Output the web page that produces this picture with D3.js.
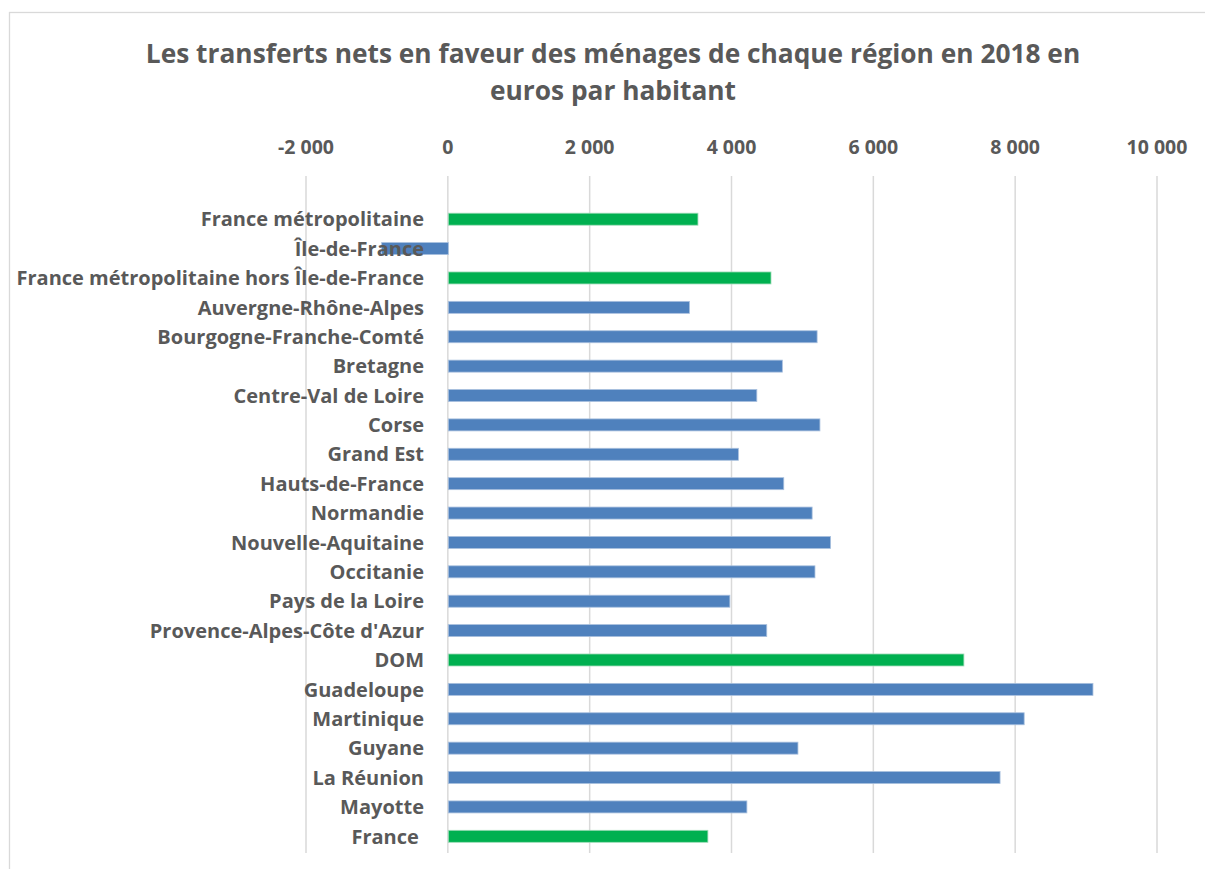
<!DOCTYPE html>
<html>
<head>
<meta charset="utf-8">
<script src="https://cdn.jsdelivr.net/npm/d3@7"></script>
<style>
  body { margin: 0; background: #fff; }
  svg { display: block; font-family: "Open Sans", "Noto Sans", sans-serif; }
</style>
</head>
<body>
<div id="chart"></div>
<script>
const regions = [
  "France métropolitaine", "Île-de-France", "France métropolitaine hors Île-de-France",
  "Auvergne-Rhône-Alpes", "Bourgogne-Franche-Comté", "Bretagne", "Centre-Val de Loire",
  "Corse", "Grand Est", "Hauts-de-France", "Normandie", "Nouvelle-Aquitaine", "Occitanie",
  "Pays de la Loire", "Provence-Alpes-Côte d'Azur", "DOM", "Guadeloupe", "Martinique",
  "Guyane", "La Réunion", "Mayotte", "France"
];
const transferts = [
  3520, -940, 4550, 3400, 5200, 4710, 4350, 5240, 4090, 4730, 5130, 5390, 5170,
  3970, 4490, 7270, 9090, 8120, 4930, 7780, 4210, 3660
];
const aggregates = ["France métropolitaine", "France métropolitaine hors Île-de-France", "DOM", "France"];
const tickValues = [-2000, 0, 2000, 4000, 6000, 8000, 10000];
const titleLines = ["Les transferts nets en faveur des ménages de chaque région en 2018 en", "euros par habitant"];

const W = 1205, H = 869;
const data = regions.map((r, i) => ({ region: r, value: transferts[i] }));

const svg = d3.select("#chart").append("svg").attr("width", W).attr("height", H);

// chart area border (runs off the right/bottom edges like the original)
svg.append("rect")
  .attr("x", 9.5).attr("y", 12.5)
  .attr("width", 1300).attr("height", 1000)
  .attr("fill", "none").attr("stroke", "#d9d9d9").attr("stroke-width", 1.3);

const x = d3.scaleLinear().domain([-2000, 10000]).range([306, 1157]);
const y = d3.scaleBand().domain(regions).range([204.5, 851]).paddingInner(0.6).paddingOuter(0.3);

svg.append("g")
  .selectAll("text")
  .data(titleLines)
  .join("text")
  .attr("x", 613)
  .attr("y", (d, i) => 63 + i * 37)
  .attr("text-anchor", "middle")
  .attr("fill", "#595959")
  .attr("font-weight", "bold")
  .attr("font-size", 26.3)
  .text((d) => d);

// gridlines
svg.append("g")
  .selectAll("line")
  .data(tickValues)
  .join("line")
  .attr("x1", (d) => x(d)).attr("x2", (d) => x(d))
  .attr("y1", 176).attr("y2", 853)
  .attr("stroke", "#d9d9d9").attr("stroke-width", 1.5);

// top axis labels
const fmt = (v) => d3.format(",")(v).replace(",", " ").replace("−", "-");
svg.append("g")
  .selectAll("text")
  .data(tickValues)
  .join("text")
  .attr("x", (d) => x(d))
  .attr("y", 154)
  .attr("text-anchor", "middle")
  .attr("fill", "#595959")
  .attr("font-weight", "bold")
  .attr("font-size", 19.5)
  .text(fmt);

// bars
const bh = 12;
svg.append("g")
  .selectAll("rect")
  .data(data)
  .join("rect")
  .attr("x", (d) => x(Math.min(0, d.value)) + 0.5)
  .attr("y", (d) => y(d.region) + y.bandwidth() / 2 - bh / 2)
  .attr("width", (d) => Math.abs(x(d.value) - x(0)))
  .attr("height", bh)
  .attr("fill", (d) => aggregates.includes(d.region) ? "#00b050" : "#4f81bd")
  .attr("stroke", (d) => aggregates.includes(d.region) ? "#9fdcb8" : "#a9c0de")
  .attr("stroke-width", 0.8);

// category labels
svg.append("g")
  .selectAll("text")
  .data(data)
  .join("text")
  .attr("x", 424)
  .attr("y", (d) => y(d.region) + y.bandwidth() / 2)
  .attr("dy", "0.36em")
  .attr("text-anchor", "end")
  .attr("fill", "#595959")
  .attr("font-weight", "bold")
  .attr("font-size", 20)
  .text((d) => d.region === "France" ? "France " : d.region)
  .attr("xml:space", "preserve");
</script>
</body>
</html>
